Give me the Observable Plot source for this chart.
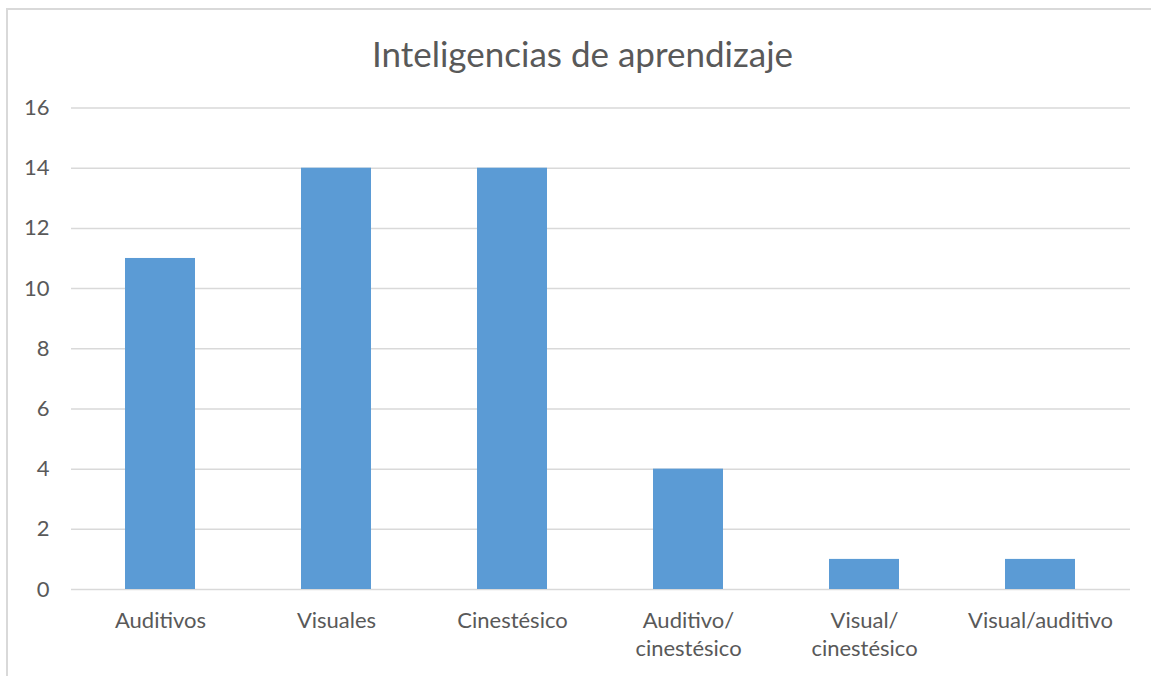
<!DOCTYPE html>
<html>
<head>
<meta charset="utf-8">
<script src="https://cdn.jsdelivr.net/npm/d3@7"></script>
<script src="https://cdn.jsdelivr.net/npm/@observablehq/plot@0.6"></script>
<style>
  html, body { margin: 0; padding: 0; background: #fff; overflow: hidden; }
  body { width: 1151px; height: 676px; position: relative; font-family: Lato, "Open Sans", sans-serif; }
  #frame { position: absolute; left: 6px; top: 8px; width: 1200px; height: 700px; border: 2px solid #d9d9d9; box-sizing: border-box; }
  #title { position: absolute; left: 0; width: 1165px; top: 32px; text-align: center; font-size: 35px; line-height: 42px; color: #595959; }
  #chart { position: absolute; left: 0; top: 0; }
</style>
</head>
<body>
<div id="frame"></div>
<div id="title">Inteligencias de aprendizaje</div>
<div id="chart"></div>
<script>
const categories = ["Auditivos", "Visuales", "Cinestésico", "Auditivo/\ncinestésico", "Visual/\ncinestésico", "Visual/auditivo"];
const values = [11, 14, 14, 4, 1, 1];
const yTicks = [0, 2, 4, 6, 8, 10, 12, 14, 16];

const data = categories.map((c, i) => ({category: c, value: values[i]}));

const chart = Plot.plot({
  width: 1151,
  height: 676,
  marginTop: 107.5,
  marginBottom: 87,
  marginLeft: 71,
  marginRight: 21,
  style: {background: "transparent", fontFamily: "Lato, 'Open Sans', sans-serif", color: "#595959", fontSize: "22px"},
  x: {domain: categories, paddingInner: 0.6, paddingOuter: 0.3},
  y: {domain: [0, 16]},
  marks: [
    Plot.gridY(yTicks, {stroke: "#d9d9d9", strokeOpacity: 1, strokeWidth: 1.5}),
    Plot.barY(data, {x: "category", y: "value", fill: "#5b9bd5"}),
    Plot.axisY(yTicks, {tickSize: 0, tickPadding: 22, fontSize: 22, fill: "#595959", label: null}),
    Plot.axisX({tickSize: 0, tickPadding: 18, fontSize: 22, fill: "#595959", label: null, lineAnchor: "top", lineHeight: 1.3})
  ]
});
document.getElementById("chart").appendChild(chart);
</script>
</body>
</html>
